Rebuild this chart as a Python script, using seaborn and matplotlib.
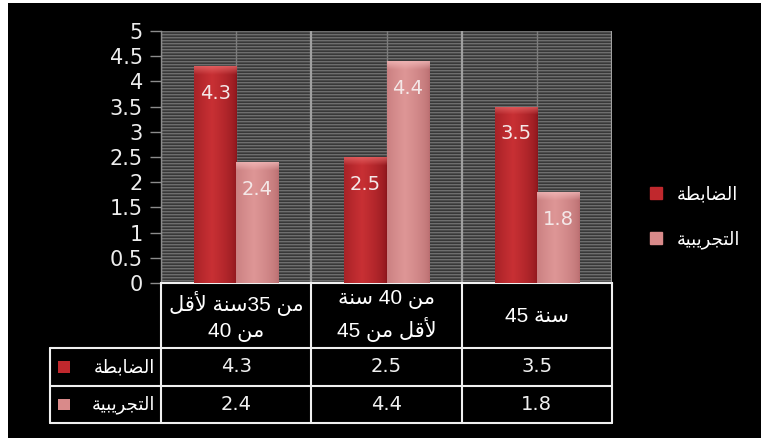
import re
import numpy as np
import pandas as pd
import seaborn as sns
import matplotlib
matplotlib.use("Agg")
import matplotlib.pyplot as plt
from matplotlib.lines import Line2D
from matplotlib.patches import Rectangle

# Chart data (Arabic strings kept in logical order, "\n" = line break in the table header)
age_groups = ["من 35سنة لأقل\nمن 40", "من 40 سنة\nلأقل من 45", "45 سنة"]
groups = ["الضابطة", "التجريبية"]
control_values = [4.3, 2.5, 3.5]
experimental_values = [2.4, 4.4, 1.8]
y_ticks = [0, 0.5, 1, 1.5, 2, 2.5, 3, 3.5, 4, 4.5, 5]

# matplotlib has no Arabic shaping / bidi, so do a small one by hand
FORMS = {
    'ا': ('\uFE8D', '\uFE8E', None, None),
    'أ': ('\uFE83', '\uFE84', None, None),
    'ة': ('\uFE93', '\uFE94', None, None),
    'ر': ('\uFEAD', '\uFEAE', None, None),
    'ل': ('\uFEDD', '\uFEDE', '\uFEDF', '\uFEE0'),
    'ض': ('\uFEBD', '\uFEBE', '\uFEBF', '\uFEC0'),
    'ب': ('\uFE8F', '\uFE90', '\uFE91', '\uFE92'),
    'ط': ('\uFEC1', '\uFEC2', '\uFEC3', '\uFEC4'),
    'ت': ('\uFE95', '\uFE96', '\uFE97', '\uFE98'),
    'ج': ('\uFE9D', '\uFE9E', '\uFE9F', '\uFEA0'),
    'ي': ('\uFEF1', '\uFEF2', '\uFEF3', '\uFEF4'),
    'م': ('\uFEE1', '\uFEE2', '\uFEE3', '\uFEE4'),
    'ن': ('\uFEE5', '\uFEE6', '\uFEE7', '\uFEE8'),
    'س': ('\uFEB1', '\uFEB2', '\uFEB3', '\uFEB4'),
    'ق': ('\uFED5', '\uFED6', '\uFED7', '\uFED8'),
}
LAM_ALEF = {'أ': ('\uFEF7', '\uFEF8'), 'ا': ('\uFEFB', '\uFEFC')}


def shape_line(text):
    tokens = []
    i = 0
    while i < len(text):
        c = text[i]
        if c == 'ل' and i + 1 < len(text) and text[i + 1] in LAM_ALEF:
            tokens.append(('LA', text[i + 1]))
            i += 2
        else:
            tokens.append(('C', c))
            i += 1

    def joins_next(t):
        return t[0] == 'C' and t[1] in FORMS and FORMS[t[1]][2] is not None

    def is_arabic(t):
        return t[0] == 'LA' or t[1] in FORMS

    out = []
    for k, t in enumerate(tokens):
        prev = tokens[k - 1] if k > 0 else None
        nxt = tokens[k + 1] if k + 1 < len(tokens) else None
        jp = prev is not None and joins_next(prev)
        if t[0] == 'LA':
            out.append(LAM_ALEF[t[1]][1 if jp else 0])
            continue
        f = FORMS.get(t[1])
        if f is None:
            out.append(t[1])
            continue
        jn = f[2] is not None and nxt is not None and is_arabic(nxt)
        if jp and jn:
            out.append(f[3])
        elif jp:
            out.append(f[1])
        elif jn:
            out.append(f[2])
        else:
            out.append(f[0])
    shaped = ''.join(out)
    # left-to-right paragraph: leading numbers stay on the left,
    # the Arabic run is reversed with its number groups kept intact
    m = re.search(r'[\uFE70-\uFEFF]', shaped)
    if m is None:
        return shaped
    head, rest = shaped[:m.start()], shaped[m.start():]
    parts = re.findall(r'[0-9.]+|.', rest)
    return head + ''.join(reversed(parts))


def ar(text):
    return '\n'.join(shape_line(line) for line in text.split('\n'))


sns.set_theme(style="white")
plt.rcParams['font.family'] = ['DejaVu Sans']

df = pd.DataFrame({
    "age": age_groups * 2,
    "group": [groups[0]] * 3 + [groups[1]] * 3,
    "value": control_values + experimental_values,
})

red = "#C0282D"
pink = "#D98A8A"
palette = {groups[0]: red, groups[1]: pink}

W, H = 761, 438
fig = plt.figure(figsize=(W / 100, H / 100), dpi=100, facecolor="white")
fig.patches.append(Rectangle((8 / W, 0), 1, 1 - 3 / H, transform=fig.transFigure,
                             facecolor="black", edgecolor="none", zorder=-10))

ax = fig.add_axes([161 / W, 1 - 283 / H, 451 / W, 252 / H])
ax.set_facecolor("#3c3c3c")

sns.barplot(data=df, x="age", y="value", hue="group", order=age_groups, hue_order=groups,
            palette=palette, width=0.56, gap=0, saturation=1, legend=False, ax=ax,
            zorder=3, edgecolor="none")

# striped plot background
stripe = np.array([[110], [76], [56]], dtype=float) / 255
tex = np.tile(stripe, (84, 1))
ax.imshow(np.dstack([tex, tex, tex]), extent=(-0.5, 2.5, 0, 5), aspect="auto",
          interpolation="nearest", zorder=0)

for xb in [-0.5, 0.5, 1.5, 2.5]:
    ax.axvline(xb, color="#a0a0a0", lw=1.6, zorder=1)
for xc in [0, 1, 2]:
    ax.axvline(xc, color="#7c7c7c", lw=1.0, zorder=1)

# glossy gradient on each bar
shades = {
    groups[0]: ((140, 22, 28), (200, 48, 52), (235, 110, 110)),
    groups[1]: ((185, 110, 112), (222, 150, 150), (245, 190, 190)),
}
for cont, g in zip(ax.containers, groups):
    edge, mid, top = [np.array(c) / 255 for c in shades[g]]
    for p in cont:
        x0, w, h = p.get_x(), p.get_width(), p.get_height()
        nx, ny = 40, 200
        u = np.linspace(0, 1, nx)
        prof = np.clip(1 - np.abs(u - 0.42) / 0.58, 0, 1) ** 0.6
        row = edge[None, :] * (1 - prof[:, None]) + mid[None, :] * prof[:, None]
        img = np.repeat(row[None, :, :], ny, axis=0)
        yy = np.linspace(h, 0, ny)
        cap = np.clip((yy - (h - 0.16)) / 0.16, 0, 1)[:, None, None]
        img = img * (1 - cap * 0.7) + top[None, None, :] * cap * 0.7
        im = ax.imshow(img, extent=(x0, x0 + w, 0, h), aspect="auto", zorder=4,
                       interpolation="bilinear")
        im.set_clip_path(p)

# value labels inside bars
offsets = [-0.14, 0.14]
for vals, off in zip([control_values, experimental_values], offsets):
    for i, v in enumerate(vals):
        ax.annotate(f"{v:.1f}", (i + off, v), xytext=(0, -27), textcoords="offset pixels",
                    ha="center", va="center", color="#F4E8E8", fontsize=14, zorder=6)

ax.set_xlim(-0.5, 2.5)
ax.set_ylim(0, 5)
ax.set_yticks(y_ticks)
ax.set_yticklabels([f"{t:g}" for t in y_ticks])
ax.set_xticks([])
ax.set_xlabel("")
ax.set_ylabel("")
ax.tick_params(axis="y", left=True, length=8, width=1, color="#8c8c8c",
               labelcolor="#EDEDED", labelsize=15, pad=5)
for s in ["top", "right"]:
    ax.spines[s].set_visible(False)
ax.spines["left"].set_color("#8c8c8c")
ax.spines["left"].set_linewidth(1)
ax.spines["bottom"].set_color("#F0F0F0")
ax.spines["bottom"].set_linewidth(1.5)

# data table under the plot
cat_px = 451 / 3
left_edge = -0.5 - 111 / cat_px
tab = fig.add_axes([50 / W, 1 - 423 / H, 562 / W, 140 / H])
tab.set_xlim(left_edge, 2.5)
tab.set_ylim(140, 0)
tab.axis("off")
lc, lw = "#F0F0F0", 1.5
for xb in [-0.5, 0.5, 1.5, 2.5]:
    tab.plot([xb, xb], [0, 140], color=lc, lw=lw, clip_on=False)
tab.plot([left_edge, left_edge], [65, 140], color=lc, lw=lw, clip_on=False)
for yb in [65, 103, 140]:
    tab.plot([left_edge, 2.5], [yb, yb], color=lc, lw=lw, clip_on=False)

for i, a in enumerate(age_groups):
    tab.text(i, 33, ar(a), ha="center", va="center", color="white", fontsize=15,
             family=["Liberation Sans", "DejaVu Sans"], linespacing=1.4)

row_y = [84, 121.5]
for vals, g, yy in zip([control_values, experimental_values], groups, row_y):
    for i, v in enumerate(vals):
        tab.text(i, yy, f"{v:.1f}", ha="center", va="center", color="#F0F0F0", fontsize=14)
    tab.text(-0.5 - 6 / cat_px, yy, ar(g), ha="right", va="center", color="white", fontsize=13)
    tab.scatter([left_edge + 14 / cat_px], [yy], marker="s", s=64, color=palette[g],
                edgecolor="none", clip_on=False)

# legend on the right
handles = [Line2D([], [], marker="s", ls="", markersize=8, markerfacecolor=palette[g],
                  markeredgecolor=palette[g]) for g in groups]
fig.legend(handles, [ar(g) for g in groups], loc="center left",
           bbox_to_anchor=(650 / W, 1 - 217 / H), frameon=False, labelcolor="white",
           fontsize=13, labelspacing=1.5, handlelength=0.7, handletextpad=0.8,
           borderpad=0, borderaxespad=0)

fig.savefig("out.png", dpi=100, facecolor=fig.get_facecolor())
